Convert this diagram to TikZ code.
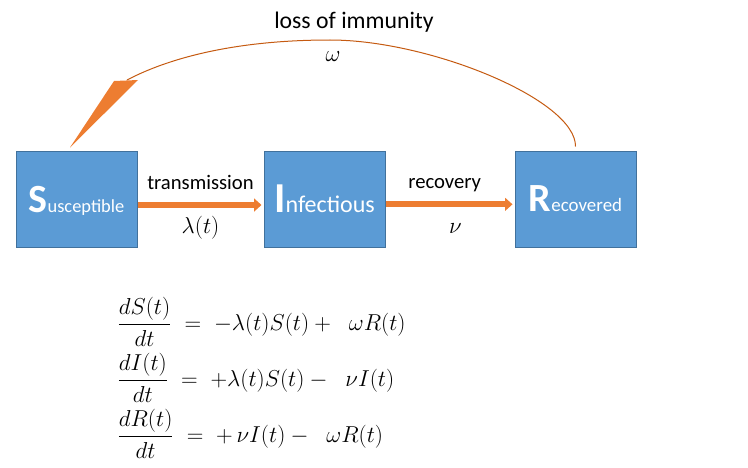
\documentclass[tikz,border=0pt]{standalone}
\usepackage{amsmath,amssymb}
\usepackage{fontspec}
\setmainfont{Carlito}
\usepackage{xcolor}
\usepackage{tikz}
\usetikzlibrary{arrows.meta,positioning,calc}

\definecolor{boxblue}{HTML}{5B9BD5}
\definecolor{boxedge}{HTML}{41719C}
\definecolor{flowora}{HTML}{ED7D31}
\definecolor{loopora}{HTML}{C55A11}

% big first letter, smaller rest
\newcommand{\complabel}[4]{{\fontsize{#1}{#1}\selectfont\bfseries #3}{\fontsize{#2}{#2}\selectfont #4}}

\begin{document}
\begin{tikzpicture}[x=0.75pt, y=-0.75pt, node distance=1.0cm, auto, >=Stealth]
    \tikzstyle{comp} = [rectangle, minimum width=90.75pt, minimum height=72pt, inner sep=0pt, text depth=0pt, text centered, draw=boxedge, line width=0.75pt, fill=boxblue, text=white]
    \tikzstyle{flow} = [draw=flowora, line width=4.5pt, -{Triangle[length=5.5pt,width=9.5pt]}, shorten >=1.5pt]
    \tikzstyle{lab} = [font=\fontsize{15.5}{18}\selectfont, text=black]
    \tikzstyle{eqn} = [anchor=west, inner sep=0pt, font=\fontsize{17.5}{20}\selectfont]

    \useasboundingbox (0,0) rectangle (748,467);

    \node (S) [comp] at (76.5,199) {\complabel{30}{13.8}{S}{usceptible}};
    \node (I) [comp, right=94.5pt of S] {\complabel{32}{18}{I}{nfectious}};
    \node (R) [comp, right=96.75pt of I] {\complabel{30}{14.2}{R}{ecovered}};

    \draw [flow] ([yshift=-4.5pt]S.east) -- ([yshift=-4.5pt]I.west)
        node (trans) [lab, midway, anchor=base, yshift=12pt] {transmission}
        node (lam) [eqn, midway, anchor=base, yshift=-21.5pt] {$\lambda(t)$};
    \draw [flow] ([yshift=-4pt]I.east) -- ([yshift=-4pt]R.west)
        node (recov) [lab, midway, anchor=base, yshift=12pt, xshift=-4pt] {recovery}
        node (nu) [eqn, midway, anchor=base, yshift=-21.5pt, xshift=4pt] {$\nu$};

    % loss of immunity
    \coordinate (back) at (127,80);
    \draw [loopora, line width=0.75pt] ([yshift=3pt]R.north) .. controls (576,100) and (430,40) .. (330,40) .. controls (230,40) and (165,60) .. (back);
    \fill [flowora] ($(back)+(-13,1)$) -- ($(back)+(11,0)$) -- ($(S.north)+(-6.5,-3)$) -- cycle;
    \node (loss) [lab, font=\fontsize{17.8}{20}\selectfont] at (354,22) {loss of immunity};
    \node (omega) [eqn, anchor=center] at (333,57) {$\omega$};

    % equations
    \node (eqS) [eqn] at (117,322) {$\dfrac{dS(t)}{dt}\;=\;-\lambda(t)S(t)+\;\;\omega R(t)$};
    \node (eqI) [eqn] at (117,378) {$\dfrac{dI(t)}{dt}\;=\;+\lambda(t)S(t)-\;\;\nu I(t)$};
    \node (eqR) [eqn] at (117,434) {$\dfrac{dR(t)}{dt}\;=\;+\,\nu I(t)-\;\;\omega R(t)$};
\end{tikzpicture}
\end{document}
